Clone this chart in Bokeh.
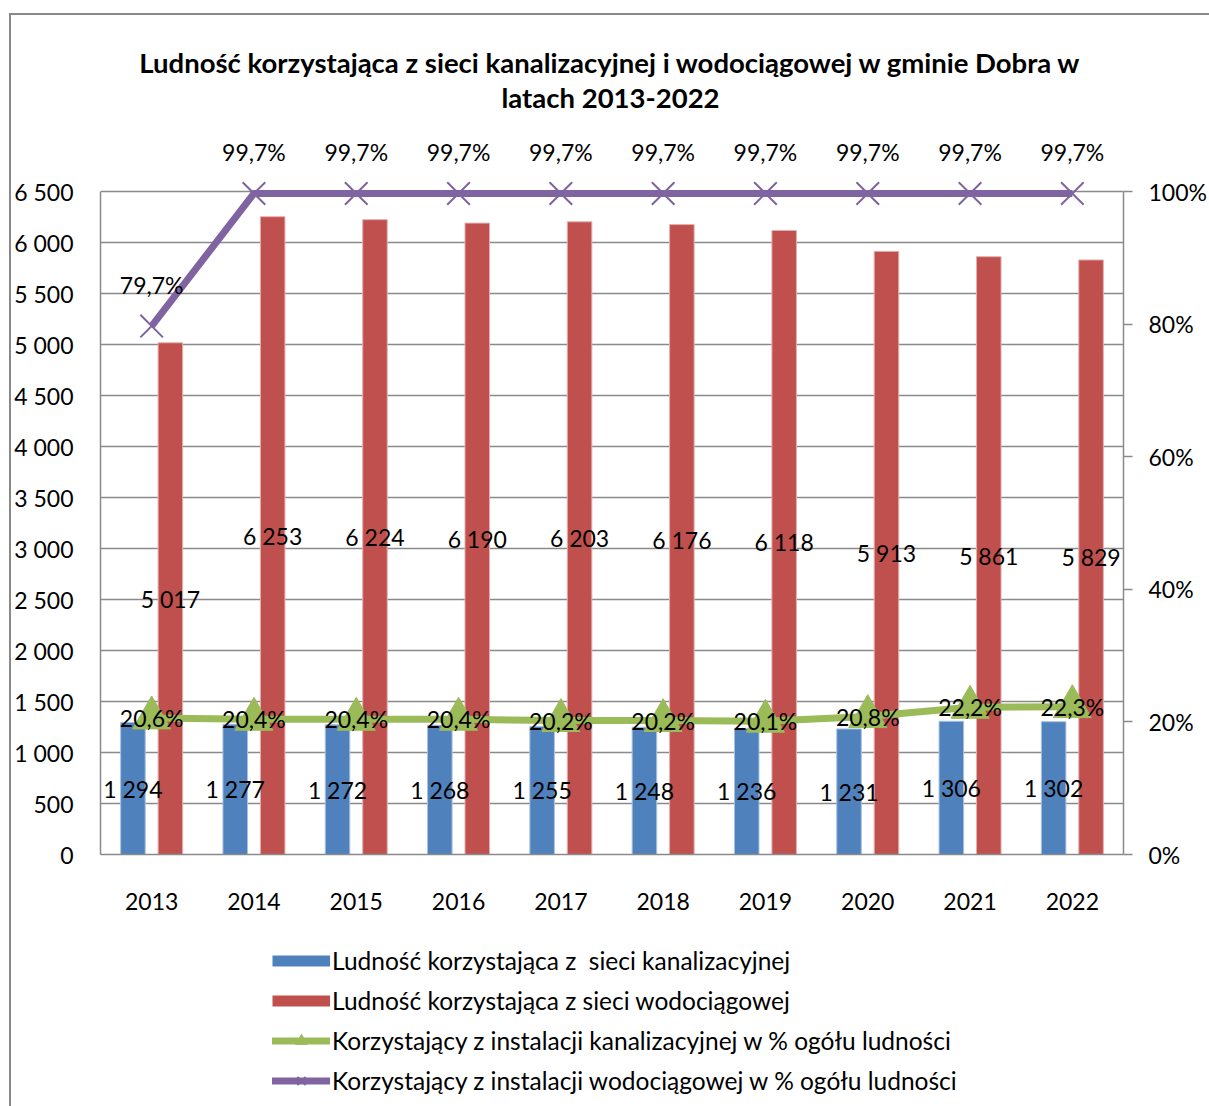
from bokeh.plotting import figure
from bokeh.layouts import column
from bokeh.models import (ColumnDataSource, FactorRange, Range1d, LinearAxis, FixedTicker,
                          LabelSet, Label, Legend, LegendItem)
from bokeh.transform import dodge
from bokeh.core.properties import value
from bokeh.embed import file_html
from bokeh.resources import INLINE

# ---------------- data ----------------
years = ["2013", "2014", "2015", "2016", "2017", "2018", "2019", "2020", "2021", "2022"]
sewer_pop = [1294, 1277, 1272, 1268, 1255, 1248, 1236, 1231, 1306, 1302]
water_pop = [5017, 6253, 6224, 6190, 6203, 6176, 6118, 5913, 5861, 5829]
sewer_pct = [20.6, 20.4, 20.4, 20.4, 20.2, 20.2, 20.1, 20.8, 22.2, 22.3]
water_pct = [79.7, 99.7, 99.7, 99.7, 99.7, 99.7, 99.7, 99.7, 99.7, 99.7]
left_ticks = [0, 500, 1000, 1500, 2000, 2500, 3000, 3500, 4000, 4500, 5000, 5500, 6000, 6500]
right_ticks = [0, 20, 40, 60, 80, 100]
title_lines = ["Ludność korzystająca z sieci kanalizacyjnej i wodociągowej w gminie Dobra w",
               "latach 2013-2022"]
legend_labels = ["Ludność korzystająca z  sieci kanalizacyjnej",
                 "Ludność korzystająca z sieci wodociągowej",
                 "Korzystający z instalacji kanalizacyjnej w % ogółu ludności",
                 "Korzystający z instalacji wodociągowej w % ogółu ludności"]

# ---------------- style ----------------
FONT = "Lato"
BLUE, RED, GREEN, PURPLE = "#4F81BD", "#C0504D", "#9BBB59", "#8064A2"
GRID = "#8a8a8a"
FS = "23px"
Y_MAX = 6500

# page geometry (column placed at 9,13 with a 2px border -> content at 11,15)
OX, OY = 11, 15
W = 1209 - OX
SPLIT = 930                      # page y where the legend strip starts
H1 = SPLIT - OY
H2 = 1106 - SPLIT
FRAME_L, FRAME_R, FRAME_T, FRAME_B = 100, 1127, 17, 854   # page coords
PX_PER_UNIT = (854 - 191) / Y_MAX
Y_TOP = (FRAME_B - FRAME_T) / PX_PER_UNIT
P_TOP = 100 * Y_TOP / Y_MAX


def fmt_int(v):
    return f"{v:,}".replace(",", " ")


def fmt_pct(v):
    return f"{v:.1f}".replace(".", ",") + "%"


src = ColumnDataSource(dict(
    year=years,
    sewer=sewer_pop, water=water_pop,
    sewer_mid=[v / 2 for v in sewer_pop], water_mid=[v / 2 for v in water_pop],
    sewer_txt=[fmt_int(v) for v in sewer_pop], water_txt=[fmt_int(v) for v in water_pop],
    spct=sewer_pct, wpct=water_pct,
    spct_txt=[fmt_pct(v) for v in sewer_pct], wpct_txt=[fmt_pct(v) for v in water_pct],
))

p = figure(x_range=FactorRange(*years), y_range=Range1d(0, Y_TOP),
           width=W, height=H1, output_backend="svg", toolbar_location=None,
           min_border_left=FRAME_L - OX, min_border_right=W - (FRAME_R - OX),
           min_border_top=FRAME_T - OY, min_border_bottom=SPLIT - FRAME_B)
p.outline_line_color = None
p.background_fill_color = "white"
p.border_fill_color = "white"
p.extra_y_ranges = {"pct": Range1d(0, P_TOP)}

# grid
p.xgrid.visible = False
p.ygrid.ticker = FixedTicker(ticks=left_ticks)
p.ygrid.grid_line_color = GRID
p.ygrid.grid_line_width = 1.3

# left axis
ya = p.yaxis[0]
ya.ticker = FixedTicker(ticks=left_ticks)
ya.bounds = (0, Y_MAX)
ya.major_label_overrides = {t: fmt_int(t) for t in left_ticks}
ya.major_tick_line_color = None
ya.major_tick_out = 0
ya.major_tick_in = 0
ya.minor_tick_line_color = None
ya.minor_tick_out = 0
ya.axis_line_color = GRID
ya.axis_line_width = 1.5
ya.major_label_standoff = 27
ya.major_label_text_font = FONT
ya.major_label_text_font_size = FS
ya.major_label_text_color = "black"

# bottom axis
xa = p.xaxis[0]
xa.major_tick_line_color = None
xa.major_tick_out = 0
xa.major_tick_in = 0
xa.minor_tick_line_color = None
xa.axis_line_color = GRID
xa.axis_line_width = 1.5
xa.major_label_standoff = 38
xa.major_label_text_font = FONT
xa.major_label_text_font_size = FS
xa.major_label_text_color = "black"

# right axis
ra = LinearAxis(y_range_name="pct", ticker=FixedTicker(ticks=right_ticks), bounds=(0, 100))
ra.major_label_overrides = {t: f"{t}%" for t in right_ticks}
ra.major_tick_out = 9
ra.major_tick_in = 0
ra.major_tick_line_color = GRID
ra.major_tick_line_width = 1.5
ra.minor_tick_line_color = None
ra.minor_tick_out = 0
ra.axis_line_color = GRID
ra.axis_line_width = 1.5
ra.major_label_standoff = 16
ra.major_label_text_font = FONT
ra.major_label_text_font_size = FS
ra.major_label_text_color = "black"
p.add_layout(ra, "right")

# bars
OFF = 0.183
BW = 0.24
p.vbar(x=dodge("year", -OFF, range=p.x_range), top="sewer", width=BW, source=src,
       fill_color=BLUE, line_color="#a9c1e0", line_width=1)
p.vbar(x=dodge("year", OFF, range=p.x_range), top="water", width=BW, source=src,
       fill_color=RED, line_color="#e3b0ae", line_width=1)

# lines
p.line(x="year", y="spct", y_range_name="pct", source=src, line_color=GREEN,
       line_width=7, line_join="round")
p.scatter(x="year", y="spct", y_range_name="pct", source=src, marker="triangle",
          size=38, fill_color=GREEN, line_color=GREEN)
p.line(x="year", y="wpct", y_range_name="pct", source=src, line_color=PURPLE,
       line_width=7, line_join="round")
p.scatter(x="year", y="wpct", y_range_name="pct", source=src, marker="x",
          size=32, line_color=PURPLE, line_width=2)

# data labels
common = dict(source=src, text_font=value(FONT), text_font_size=FS, text_color="black",
              text_align="center", text_baseline="middle")
p.add_layout(LabelSet(x=dodge("year", -OFF, range=p.x_range), y="sewer_mid", text="sewer_txt", **common))
p.add_layout(LabelSet(x=dodge("year", OFF, range=p.x_range), y="water_mid", text="water_txt", **common))
p.add_layout(LabelSet(x="year", y="spct", y_range_name="pct", text="spct_txt", **common))
p.add_layout(LabelSet(x="year", y="wpct", y_range_name="pct", text="wpct_txt", y_offset=41, **common))

# title (inside the extended frame)
for t, page_y in zip(title_lines, [62, 97]):
    p.add_layout(Label(x=610 - FRAME_L, y=FRAME_B - page_y, x_units="screen", y_units="screen",
                       text=t, text_font=FONT, text_font_size="27.5px", text_font_style="bold",
                       text_align="center", text_baseline="middle", text_color="black"))

# ---------------- legend strip ----------------
q = figure(width=W, height=H2, output_backend="svg", toolbar_location=None,
           x_range=Range1d(0, 1), y_range=Range1d(0, 1),
           x_axis_location=None, y_axis_location=None,
           min_border_left=0, min_border_right=0, min_border_top=0, min_border_bottom=0)
q.outline_line_color = None
q.grid.visible = False
q.background_fill_color = "white"
q.border_fill_color = "white"

# legend swatch renderers (placed outside the visible range, only their styles are used)
hid_x, hid_y = [-2, -1], [-2, -1]
lb = q.line(x=hid_x, y=hid_y, line_color=BLUE, line_width=11, line_cap="butt")
lr = q.line(x=hid_x, y=hid_y, line_color=RED, line_width=11, line_cap="butt")
lg = q.line(x=hid_x, y=hid_y, line_color=GREEN, line_width=7, line_cap="round")
lgm = q.scatter(x=hid_x, y=hid_y, marker="triangle", size=16, fill_color=GREEN, line_color=GREEN)
lp = q.line(x=hid_x, y=hid_y, line_color=PURPLE, line_width=7, line_cap="round")
lpm = q.scatter(x=hid_x, y=hid_y, marker="x", size=16, line_color=PURPLE, line_width=2)

# the column aligns this strip's frame with the chart frame (page x = FRAME_L)
GLYPH_H, SPACING = 29, 11
LEG_H = 4 * GLYPH_H + 3 * SPACING
LEG_TOP = 946
legend = Legend(items=[
    LegendItem(label=legend_labels[0], renderers=[lb]),
    LegendItem(label=legend_labels[1], renderers=[lr]),
    LegendItem(label=legend_labels[2], renderers=[lg, lgm]),
    LegendItem(label=legend_labels[3], renderers=[lp, lpm]),
], location=(272 - FRAME_L, H2 - (LEG_TOP - SPLIT) - LEG_H), orientation="vertical",
    glyph_width=58, glyph_height=GLYPH_H, spacing=SPACING, label_standoff=2, padding=0, margin=0,
    border_line_color=None, background_fill_alpha=0, label_text_font=FONT,
    label_text_font_size="24.5px", label_text_color="black")
q.add_layout(legend)

layout = column(p, q, spacing=0,
                styles={"margin-left": "9px", "margin-top": "13px",
                        "border-left": "2px solid #898989", "border-top": "2px solid #898989"})

open("out.html", "w").write(file_html(layout, INLINE))
